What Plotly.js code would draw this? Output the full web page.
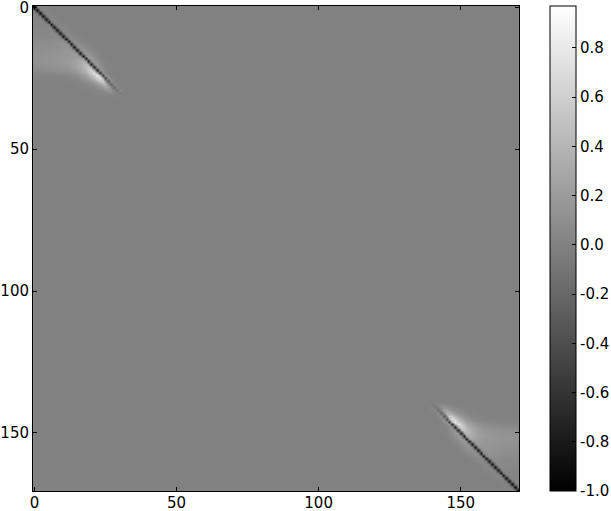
<!DOCTYPE html>
<html><head><meta charset="utf-8">
<script src="https://cdn.plot.ly/plotly-3.0.0.min.js"></script>
<style>html,body{margin:0;padding:0;background:#fff}</style></head>
<body><div id="chart" style="width:611px;height:511px"></div>
<script>
const matrixSize = 171;
const axisTicks = [0, 50, 100, 150];
const barTicks = [-1, -0.8, -0.6, -0.4, -0.2, 0, 0.2, 0.4, 0.6, 0.8];
const barLabels = ["-1.0", "-0.8", "-0.6", "-0.4", "-0.2", "0.0", "0.2", "0.4", "0.6", "0.8"];
const zLow = -1, zHigh = 0.97;
// estimated corner block of the matrix, in hundredths; every row starts at column 0
const cornerRows = [
[-100,-6,2,2,1],
[-6,-95,-6,2,2,1],
[2,-6,-92,-6,3,2,1],
[2,2,-6,-90,-6,3,2,1],
[2,3,3,-6,-88,-6,3,2,1],
[3,3,3,3,-6,-87,-6,3,3,1],
[3,3,3,3,4,-6,-86,-6,4,3,2,1],
[3,3,3,4,4,5,-5,-85,-5,5,4,2,1],
[4,4,4,4,5,5,6,-4,-85,-4,5,4,3,1],
[4,4,4,5,5,5,6,7,-3,-85,-3,6,5,3,1],
[5,5,5,5,6,6,6,7,8,-2,-85,-2,7,6,4,2,1],
[6,6,6,6,6,7,7,8,9,8,0,-85,0,7,6,4,2,1],
[8,8,8,8,8,8,9,9,10,11,10,2,-85,2,9,7,5,3,2,1],
[9,9,9,9,9,10,10,11,11,12,13,12,4,-85,4,10,8,6,4,2,1],
[10,10,10,11,11,11,11,12,12,13,14,15,14,6,-85,6,12,10,7,5,3,1],
[11,11,11,12,12,12,12,13,13,14,15,16,16,16,8,-85,8,14,11,8,5,3,1],
[12,12,12,13,13,13,13,14,14,15,16,16,17,18,19,12,-84,10,16,12,8,5,3,1],
[13,13,13,14,14,14,14,15,15,16,16,17,17,18,20,20,14,-84,12,18,13,8,4,2,1],
[13,13,13,14,14,14,15,15,16,16,17,17,18,19,21,24,26,18,-83,13,18,12,7,3,1],
[13,13,13,14,14,14,15,15,16,16,17,18,19,20,23,27,31,34,22,-82,14,17,11,6,3,1],
[12,12,12,13,13,13,14,14,15,15,16,17,18,20,23,28,33,39,44,28,-80,15,15,9,4,2,1],
[10,10,10,11,11,11,12,12,13,13,14,15,16,18,21,26,31,38,46,54,34,-78,16,12,7,3,1],
[7,7,7,8,8,8,9,9,10,10,11,12,13,15,18,22,27,33,41,51,64,38,-74,15,9,4,2,1],
[4,4,4,4,5,5,5,6,6,7,7,8,9,11,13,16,21,26,33,43,56,74,42,-68,16,7,3,1],
[2,2,2,2,2,2,2,3,3,3,4,4,5,6,8,11,15,19,25,33,45,60,80,40,-58,16,5,1],
[1,1,1,1,1,1,1,1,1,1,1,2,2,3,4,6,8,12,16,22,30,42,58,76,32,-46,15,3,1],
[0,0,0,0,0,0,0,0,0,0,0,0,1,1,2,3,4,6,9,12,17,24,36,50,60,20,-36,13,2],
[0,0,0,0,0,0,0,0,0,0,0,0,0,0,1,1,2,3,4,6,8,12,18,26,36,40,10,-26,10,2],
[0,0,0,0,0,0,0,0,0,0,0,0,0,0,0,0,1,1,2,3,4,5,8,12,18,24,24,4,-18,8,1],
[0,0,0,0,0,0,0,0,0,0,0,0,0,0,0,0,0,0,1,1,2,3,4,5,8,12,14,12,1,-10,5,1],
[0,0,0,0,0,0,0,0,0,0,0,0,0,0,0,0,0,0,0,0,1,1,2,2,3,3,5,6,5,1,-5,2],
[0,0,0,0,0,0,0,0,0,0,0,0,0,0,0,0,0,0,0,0,0,0,0,1,1,1,1,1,2,2,1,-2,1]
];

const indices = [];
for (let i = 0; i < matrixSize; i++) indices.push(i);
const z = indices.map(() => indices.map(() => 0));
cornerRows.forEach((row, r) => row.forEach((v, c) => {
  z[r][c] = v / 100;
  z[matrixSize - 1 - r][matrixSize - 1 - c] = v / 100;
}));

const axisBase = {
  range: [-0.5, 170.5], showgrid: false, zeroline: false, showline: true, linecolor: '#000', linewidth: 1,
  mirror: 'allticks', ticks: 'inside', ticklen: 4, tickcolor: '#000', tickwidth: 1,
  tickvals: axisTicks, ticktext: axisTicks.map(String), ticklabeloverflow: 'allow',
  tickfont: {family: 'DejaVu Sans', size: 15, color: '#000'}
};
Plotly.newPlot('chart', [{
  type: 'heatmap', x: indices, y: indices, z: z, zmin: zLow, zmax: zHigh, zsmooth: 'best',
  colorscale: [[0, '#000'], [1, '#fff']],
  colorbar: {
    thicknessmode: 'pixels', thickness: 26, lenmode: 'fraction', len: 1, xref: 'container', x: 0.9002, xanchor: 'left', y: 0.5, yanchor: 'middle',
    yref: 'paper', xpad: 0, ypad: 0, outlinecolor: '#000', outlinewidth: 1, ticks: 'inside', ticklen: 4, tickcolor: '#000', tickwidth: 1,
    tickmode: 'array', tickvals: barTicks, ticktext: barLabels,
    tickfont: {family: 'DejaVu Sans', size: 15, color: '#000'}
  }
}], {
  width: 611, height: 511, margin: {l: 33, r: 92, t: 6, b: 20}, paper_bgcolor: '#fff', plot_bgcolor: '#808080',
  xaxis: Object.assign({}, axisBase, {ticklabelstandoff: -2}), yaxis: Object.assign({}, axisBase, {range: [170.5, -0.5]}),
  showlegend: false
}, {displayModeBar: false, responsive: false});
</script></body></html>
